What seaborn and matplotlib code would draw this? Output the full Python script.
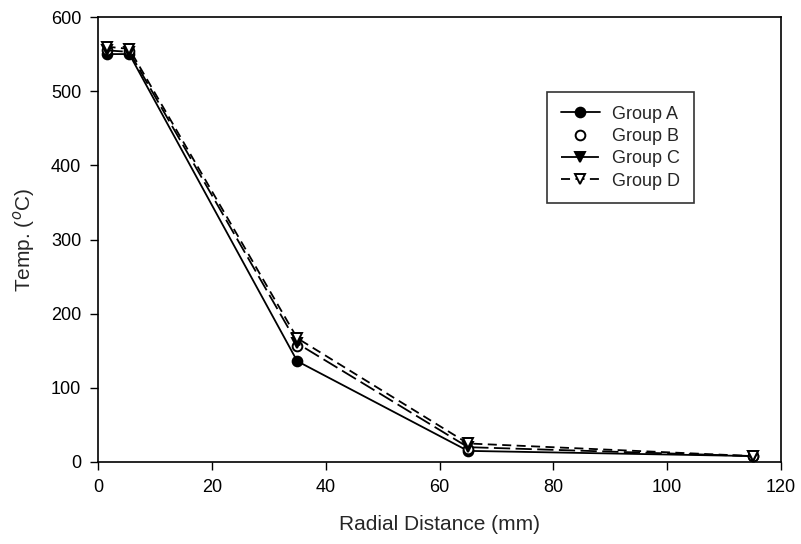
import matplotlib
matplotlib.use("Agg")
import matplotlib.pyplot as plt
import seaborn as sns
import pandas as pd

x = [1.5, 5.5, 35, 65, 115]
group_a = [550, 550, 136, 15, 8]
group_b = [556, 554, 157, 18, 8]
group_c = [555, 553, 160, 20, 8]
group_d = [560, 557, 167, 25, 8]
groups = ["Group A", "Group B", "Group C", "Group D"]

sns.set_theme(style="ticks")
plt.rcParams['font.family'] = ['Liberation Sans', 'DejaVu Sans']

df = pd.DataFrame({
    "x": x * 4,
    "y": group_a + group_b + group_c + group_d,
    "g": sum([[g] * len(x) for g in groups], []),
})

fig = plt.figure(figsize=(8.01, 5.44), dpi=100)
L, R, T, B = 98, 781, 17, 462
ax = fig.add_axes([L/801, 1 - B/544, (R-L)/801, (B-T)/544])

styles = {
    "Group A": dict(marker="o", mfc="black", ls="-", dashes=None),
    "Group B": dict(marker="o", mfc="white", ls="none", dashes=None),
    "Group C": dict(marker="v", mfc="black", ls="--", dashes=(9, 3)),
    "Group D": dict(marker="v", mfc="white", ls="--", dashes=(5, 3)),
}
for g in groups:
    st = styles[g]
    sub = df[df.g == g]
    kw = dict(color="black", lw=1.3, marker=st["marker"], markersize=7,
              markerfacecolor=st["mfc"], markeredgecolor="black",
              markeredgewidth=1.4, label=g, linestyle=st["ls"])
    line, = ax.plot(sub.x, sub.y, **kw)
    if st["dashes"] is not None:
        line.set_dashes(st["dashes"])

ax.set_xlim(0, 120)
ax.set_ylim(0, 600)
ax.set_xticks([0, 20, 40, 60, 80, 100, 120])
ax.set_yticks([0, 100, 200, 300, 400, 500, 600])
for s in ax.spines.values():
    s.set_visible(True)
    s.set_color("black")
    s.set_linewidth(1.2)
ax.tick_params(direction="out", length=6, width=1, labelsize=13, colors="black", pad=6)
ax.set_xlabel("Radial Distance (mm)", fontsize=15, labelpad=14)
ax.set_ylabel("Temp. ($^o$C)", fontsize=15, labelpad=10)

leg = ax.legend(loc="upper left", bbox_to_anchor=((547-L)/(R-L), (B-92)/(B-T)),
                borderaxespad=0, frameon=True, fancybox=False, edgecolor="black",
                fontsize=13, handlelength=2.2, borderpad=0.75, labelspacing=0.3,
                handletextpad=0.65)
leg.get_frame().set_linewidth(1.2)

fig.savefig("out.png", dpi=100, facecolor="white")
